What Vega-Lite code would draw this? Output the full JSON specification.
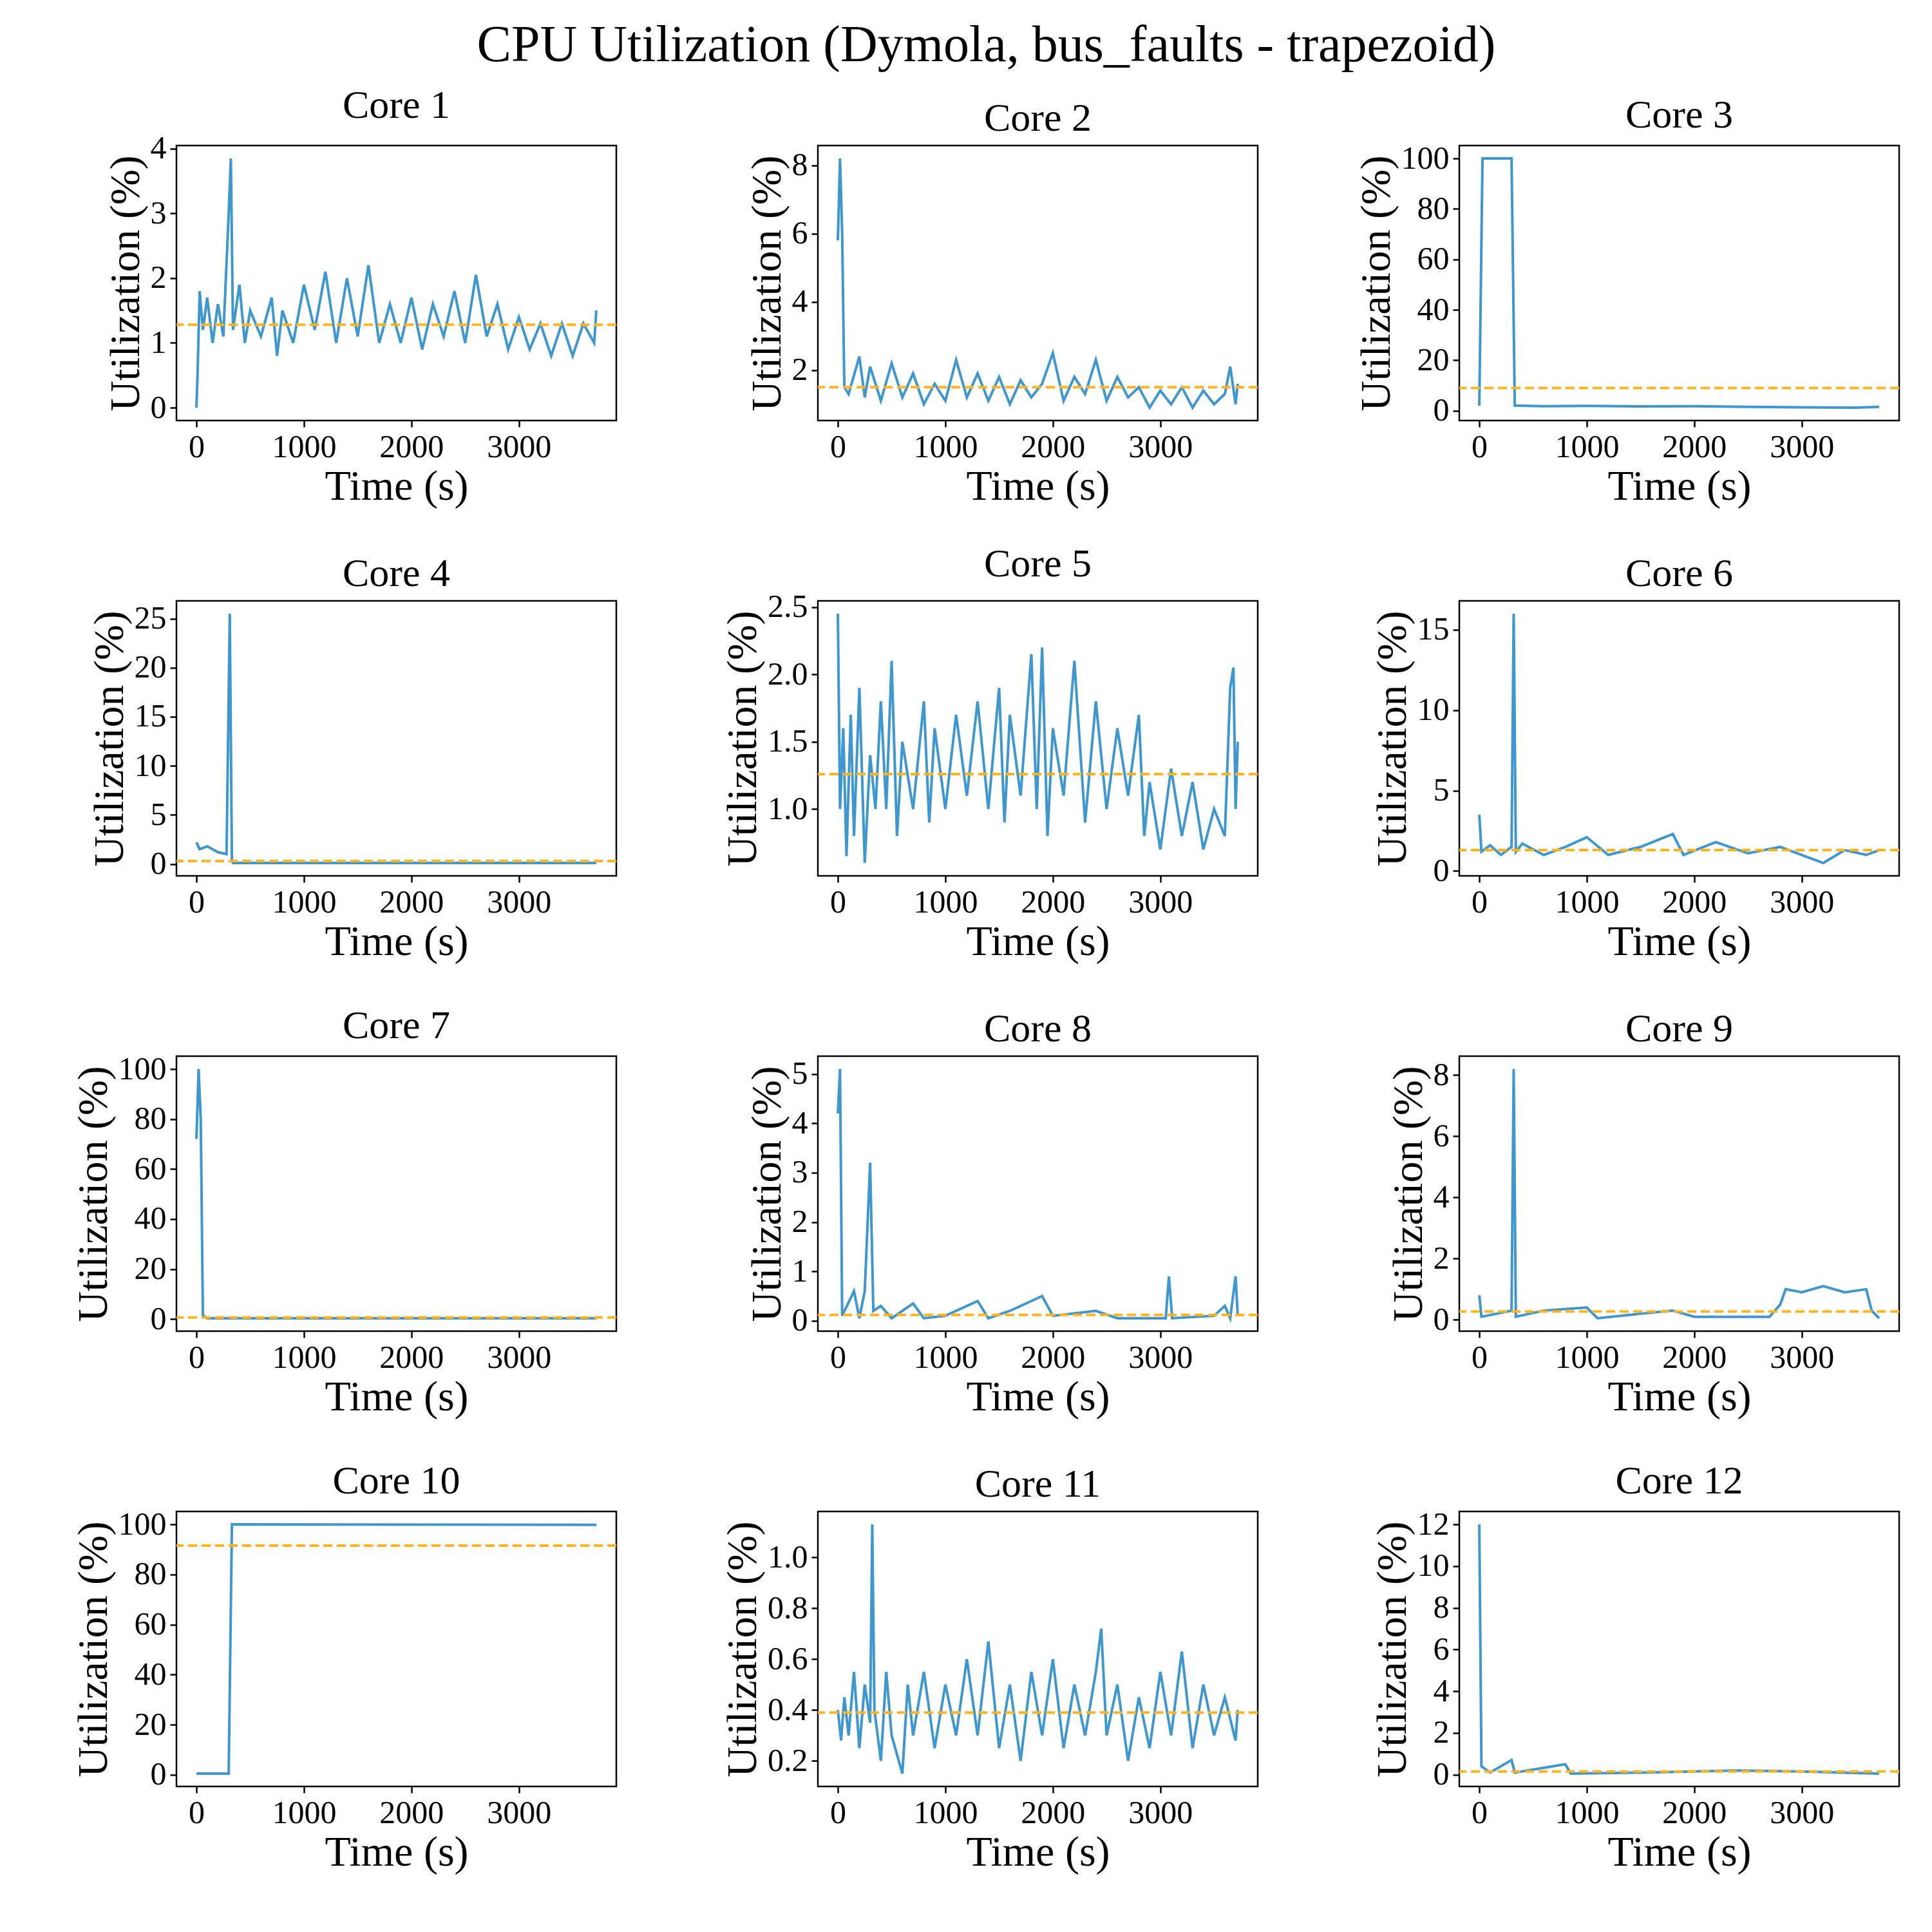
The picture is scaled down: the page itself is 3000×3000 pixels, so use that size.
{
  "$schema": "https://vega.github.io/schema/vega-lite/v6.json",
  "padding": {"left": 110, "top": 30, "right": 20, "bottom": 20},
  "background": "white",
  "title": {"text": "CPU Utilization (Dymola, bus_faults - trapezoid)", "fontSize": 80, "font": "Liberation Serif", "fontWeight": "normal", "anchor": "middle", "offset": 20},
  "config": {
    "font": "Liberation Serif",
    "view": {"stroke": "black", "strokeWidth": 2.5},
    "axis": {"grid": false, "domain": false, "tickColor": "black", "tickWidth": 2.5, "tickSize": 10, "labelFontSize": 50, "labelColor": "black", "titleFontSize": 66, "titleFontWeight": "normal", "titleColor": "black", "labelPadding": 6},
    "header": {"labelFontSize": 62, "labelColor": "black", "labelPadding": 10}
  },
  "data": {"values": [
    {"c":1,"t":0,"u":0},{"c":1,"t":10,"u":0.5},{"c":1,"t":30,"u":1.8},{"c":1,"t":60,"u":1.2},{"c":1,"t":100,"u":1.7},{"c":1,"t":150,"u":1.0},{"c":1,"t":200,"u":1.6},{"c":1,"t":250,"u":1.1},{"c":1,"t":300,"u":3.0},{"c":1,"t":320,"u":3.85},{"c":1,"t":340,"u":1.2},{"c":1,"t":400,"u":1.9},{"c":1,"t":450,"u":1.0},{"c":1,"t":500,"u":1.5},{"c":1,"t":600,"u":1.1},{"c":1,"t":700,"u":1.7},{"c":1,"t":750,"u":0.8},{"c":1,"t":800,"u":1.5},{"c":1,"t":900,"u":1.0},{"c":1,"t":1000,"u":1.9},{"c":1,"t":1100,"u":1.2},{"c":1,"t":1200,"u":2.1},{"c":1,"t":1300,"u":1.0},{"c":1,"t":1400,"u":2.0},{"c":1,"t":1500,"u":1.1},{"c":1,"t":1600,"u":2.2},{"c":1,"t":1700,"u":1.0},{"c":1,"t":1800,"u":1.6},{"c":1,"t":1900,"u":1.0},{"c":1,"t":2000,"u":1.7},{"c":1,"t":2100,"u":0.9},{"c":1,"t":2200,"u":1.6},{"c":1,"t":2300,"u":1.1},{"c":1,"t":2400,"u":1.8},{"c":1,"t":2500,"u":1.0},{"c":1,"t":2600,"u":2.05},{"c":1,"t":2700,"u":1.1},{"c":1,"t":2800,"u":1.6},{"c":1,"t":2900,"u":0.9},{"c":1,"t":3000,"u":1.4},{"c":1,"t":3100,"u":0.9},{"c":1,"t":3200,"u":1.3},{"c":1,"t":3300,"u":0.8},{"c":1,"t":3400,"u":1.3},{"c":1,"t":3500,"u":0.8},{"c":1,"t":3600,"u":1.3},{"c":1,"t":3700,"u":1.0},{"c":1,"t":3720,"u":1.5},
    {"c":2,"t":0,"u":5.8},{"c":2,"t":20,"u":8.2},{"c":2,"t":40,"u":6},{"c":2,"t":60,"u":1.5},{"c":2,"t":100,"u":1.3},{"c":2,"t":200,"u":2.4},{"c":2,"t":250,"u":1.2},{"c":2,"t":300,"u":2.1},{"c":2,"t":400,"u":1.1},{"c":2,"t":500,"u":2.2},{"c":2,"t":600,"u":1.2},{"c":2,"t":700,"u":1.9},{"c":2,"t":800,"u":1.0},{"c":2,"t":900,"u":1.6},{"c":2,"t":1000,"u":1.1},{"c":2,"t":1100,"u":2.3},{"c":2,"t":1200,"u":1.2},{"c":2,"t":1300,"u":1.9},{"c":2,"t":1400,"u":1.1},{"c":2,"t":1500,"u":1.8},{"c":2,"t":1600,"u":1.0},{"c":2,"t":1700,"u":1.7},{"c":2,"t":1800,"u":1.2},{"c":2,"t":1900,"u":1.6},{"c":2,"t":2000,"u":2.5},{"c":2,"t":2100,"u":1.1},{"c":2,"t":2200,"u":1.8},{"c":2,"t":2300,"u":1.3},{"c":2,"t":2400,"u":2.3},{"c":2,"t":2500,"u":1.1},{"c":2,"t":2600,"u":1.8},{"c":2,"t":2700,"u":1.2},{"c":2,"t":2800,"u":1.5},{"c":2,"t":2900,"u":0.9},{"c":2,"t":3000,"u":1.4},{"c":2,"t":3100,"u":1.0},{"c":2,"t":3200,"u":1.5},{"c":2,"t":3300,"u":0.9},{"c":2,"t":3400,"u":1.4},{"c":2,"t":3500,"u":1.0},{"c":2,"t":3600,"u":1.3},{"c":2,"t":3650,"u":2.1},{"c":2,"t":3700,"u":1.0},{"c":2,"t":3720,"u":1.6},
    {"c":3,"t":0,"u":2},{"c":3,"t":30,"u":100},{"c":3,"t":300,"u":100},{"c":3,"t":330,"u":2},{"c":3,"t":600,"u":1.8},{"c":3,"t":1000,"u":1.9},{"c":3,"t":1500,"u":1.7},{"c":3,"t":2000,"u":1.8},{"c":3,"t":2500,"u":1.5},{"c":3,"t":3000,"u":1.3},{"c":3,"t":3500,"u":1.2},{"c":3,"t":3720,"u":1.5},
    {"c":4,"t":0,"u":2.2},{"c":4,"t":30,"u":1.5},{"c":4,"t":100,"u":1.8},{"c":4,"t":200,"u":1.2},{"c":4,"t":280,"u":1.0},{"c":4,"t":310,"u":25.5},{"c":4,"t":330,"u":0.3},{"c":4,"t":340,"u":0.1},{"c":4,"t":1000,"u":0.1},{"c":4,"t":2000,"u":0.1},{"c":4,"t":3000,"u":0.1},{"c":4,"t":3720,"u":0.1},
    {"c":5,"t":0,"u":2.45},{"c":5,"t":20,"u":1.0},{"c":5,"t":50,"u":1.6},{"c":5,"t":80,"u":0.65},{"c":5,"t":120,"u":1.7},{"c":5,"t":150,"u":0.8},{"c":5,"t":200,"u":1.9},{"c":5,"t":250,"u":0.6},{"c":5,"t":300,"u":1.4},{"c":5,"t":350,"u":1.0},{"c":5,"t":400,"u":1.8},{"c":5,"t":450,"u":1.0},{"c":5,"t":500,"u":2.1},{"c":5,"t":550,"u":0.8},{"c":5,"t":600,"u":1.5},{"c":5,"t":700,"u":1.0},{"c":5,"t":800,"u":1.8},{"c":5,"t":850,"u":0.9},{"c":5,"t":900,"u":1.6},{"c":5,"t":1000,"u":1.0},{"c":5,"t":1100,"u":1.7},{"c":5,"t":1200,"u":1.1},{"c":5,"t":1300,"u":1.8},{"c":5,"t":1400,"u":1.0},{"c":5,"t":1500,"u":1.9},{"c":5,"t":1550,"u":0.9},{"c":5,"t":1600,"u":1.7},{"c":5,"t":1700,"u":1.1},{"c":5,"t":1800,"u":2.15},{"c":5,"t":1850,"u":1.0},{"c":5,"t":1900,"u":2.2},{"c":5,"t":1950,"u":0.8},{"c":5,"t":2000,"u":1.6},{"c":5,"t":2100,"u":1.1},{"c":5,"t":2200,"u":2.1},{"c":5,"t":2300,"u":0.9},{"c":5,"t":2400,"u":1.8},{"c":5,"t":2500,"u":1.0},{"c":5,"t":2600,"u":1.6},{"c":5,"t":2700,"u":1.1},{"c":5,"t":2800,"u":1.7},{"c":5,"t":2850,"u":0.8},{"c":5,"t":2900,"u":1.2},{"c":5,"t":3000,"u":0.7},{"c":5,"t":3100,"u":1.3},{"c":5,"t":3200,"u":0.8},{"c":5,"t":3300,"u":1.2},{"c":5,"t":3400,"u":0.7},{"c":5,"t":3500,"u":1.0},{"c":5,"t":3600,"u":0.8},{"c":5,"t":3650,"u":1.9},{"c":5,"t":3680,"u":2.05},{"c":5,"t":3700,"u":1.0},{"c":5,"t":3720,"u":1.5},
    {"c":6,"t":0,"u":3.5},{"c":6,"t":20,"u":1.2},{"c":6,"t":100,"u":1.6},{"c":6,"t":200,"u":1.0},{"c":6,"t":300,"u":1.5},{"c":6,"t":320,"u":16},{"c":6,"t":340,"u":1.2},{"c":6,"t":400,"u":1.7},{"c":6,"t":600,"u":1.0},{"c":6,"t":800,"u":1.5},{"c":6,"t":1000,"u":2.1},{"c":6,"t":1200,"u":1.0},{"c":6,"t":1500,"u":1.5},{"c":6,"t":1800,"u":2.3},{"c":6,"t":1900,"u":1.0},{"c":6,"t":2200,"u":1.8},{"c":6,"t":2500,"u":1.1},{"c":6,"t":2800,"u":1.5},{"c":6,"t":3000,"u":1.0},{"c":6,"t":3200,"u":0.5},{"c":6,"t":3400,"u":1.3},{"c":6,"t":3600,"u":1.0},{"c":6,"t":3720,"u":1.3},
    {"c":7,"t":0,"u":72},{"c":7,"t":20,"u":100},{"c":7,"t":40,"u":80},{"c":7,"t":60,"u":1.5},{"c":7,"t":100,"u":0.3},{"c":7,"t":1000,"u":0.3},{"c":7,"t":2000,"u":0.3},{"c":7,"t":3000,"u":0.3},{"c":7,"t":3720,"u":0.3},
    {"c":8,"t":0,"u":4.2},{"c":8,"t":20,"u":5.1},{"c":8,"t":40,"u":0.1},{"c":8,"t":150,"u":0.6},{"c":8,"t":200,"u":0.05},{"c":8,"t":250,"u":0.6},{"c":8,"t":300,"u":3.2},{"c":8,"t":330,"u":0.2},{"c":8,"t":400,"u":0.3},{"c":8,"t":500,"u":0.05},{"c":8,"t":700,"u":0.35},{"c":8,"t":800,"u":0.05},{"c":8,"t":1000,"u":0.1},{"c":8,"t":1300,"u":0.4},{"c":8,"t":1400,"u":0.05},{"c":8,"t":1600,"u":0.2},{"c":8,"t":1900,"u":0.5},{"c":8,"t":2000,"u":0.1},{"c":8,"t":2400,"u":0.2},{"c":8,"t":2600,"u":0.05},{"c":8,"t":3050,"u":0.05},{"c":8,"t":3080,"u":0.9},{"c":8,"t":3110,"u":0.05},{"c":8,"t":3500,"u":0.1},{"c":8,"t":3600,"u":0.3},{"c":8,"t":3650,"u":0.05},{"c":8,"t":3700,"u":0.9},{"c":8,"t":3720,"u":0.1},
    {"c":9,"t":0,"u":0.8},{"c":9,"t":20,"u":0.1},{"c":9,"t":300,"u":0.3},{"c":9,"t":320,"u":8.2},{"c":9,"t":340,"u":0.1},{"c":9,"t":600,"u":0.3},{"c":9,"t":1000,"u":0.4},{"c":9,"t":1100,"u":0.05},{"c":9,"t":1500,"u":0.2},{"c":9,"t":1800,"u":0.3},{"c":9,"t":2000,"u":0.1},{"c":9,"t":2700,"u":0.1},{"c":9,"t":2800,"u":0.5},{"c":9,"t":2850,"u":1.0},{"c":9,"t":3000,"u":0.9},{"c":9,"t":3200,"u":1.1},{"c":9,"t":3400,"u":0.9},{"c":9,"t":3600,"u":1.0},{"c":9,"t":3650,"u":0.3},{"c":9,"t":3720,"u":0.05},
    {"c":10,"t":0,"u":0.5},{"c":10,"t":300,"u":0.5},{"c":10,"t":330,"u":100},{"c":10,"t":3720,"u":99.8},
    {"c":11,"t":0,"u":0.4},{"c":11,"t":30,"u":0.28},{"c":11,"t":60,"u":0.45},{"c":11,"t":100,"u":0.3},{"c":11,"t":150,"u":0.55},{"c":11,"t":200,"u":0.25},{"c":11,"t":250,"u":0.5},{"c":11,"t":300,"u":0.35},{"c":11,"t":320,"u":1.13},{"c":11,"t":340,"u":0.4},{"c":11,"t":400,"u":0.2},{"c":11,"t":450,"u":0.55},{"c":11,"t":500,"u":0.3},{"c":11,"t":600,"u":0.15},{"c":11,"t":650,"u":0.5},{"c":11,"t":700,"u":0.3},{"c":11,"t":800,"u":0.55},{"c":11,"t":900,"u":0.25},{"c":11,"t":1000,"u":0.5},{"c":11,"t":1100,"u":0.3},{"c":11,"t":1200,"u":0.6},{"c":11,"t":1300,"u":0.3},{"c":11,"t":1400,"u":0.67},{"c":11,"t":1500,"u":0.25},{"c":11,"t":1600,"u":0.5},{"c":11,"t":1700,"u":0.2},{"c":11,"t":1800,"u":0.55},{"c":11,"t":1900,"u":0.3},{"c":11,"t":2000,"u":0.6},{"c":11,"t":2100,"u":0.25},{"c":11,"t":2200,"u":0.5},{"c":11,"t":2300,"u":0.3},{"c":11,"t":2400,"u":0.55},{"c":11,"t":2450,"u":0.72},{"c":11,"t":2500,"u":0.3},{"c":11,"t":2600,"u":0.5},{"c":11,"t":2700,"u":0.2},{"c":11,"t":2800,"u":0.45},{"c":11,"t":2900,"u":0.25},{"c":11,"t":3000,"u":0.55},{"c":11,"t":3100,"u":0.3},{"c":11,"t":3200,"u":0.63},{"c":11,"t":3300,"u":0.25},{"c":11,"t":3400,"u":0.5},{"c":11,"t":3500,"u":0.3},{"c":11,"t":3600,"u":0.45},{"c":11,"t":3700,"u":0.28},{"c":11,"t":3720,"u":0.4},
    {"c":12,"t":0,"u":12},{"c":12,"t":20,"u":0.4},{"c":12,"t":100,"u":0.1},{"c":12,"t":300,"u":0.7},{"c":12,"t":330,"u":0.1},{"c":12,"t":800,"u":0.5},{"c":12,"t":850,"u":0.05},{"c":12,"t":1500,"u":0.1},{"c":12,"t":2400,"u":0.2},{"c":12,"t":3000,"u":0.15},{"c":12,"t":3720,"u":0.05},
    {"c":1,"m":1.28},{"c":2,"m":1.5},{"c":3,"m":9},{"c":4,"m":0.3},{"c":5,"m":1.26},{"c":6,"m":1.3},{"c":7,"m":0.6},{"c":8,"m":0.12},{"c":9,"m":0.27},{"c":10,"m":91.5},{"c":11,"m":0.39},{"c":12,"m":0.15}
  ]},
  "facet": {"field": "c", "type": "ordinal", "sort": "ascending", "title": null, "header": {"labelExpr": "'Core ' + datum.value"}},
  "columns": 3,
  "bounds": "flush",
  "align": "all",
  "spacing": {"column": 313, "row": 280},
  "resolve": {"scale": {"y": "independent"}, "axis": {"x": "independent", "y": "independent"}},
  "spec": {
    "width": 683,
    "height": 427,
    "layer": [
      {
        "transform": [{"filter": "isValid(datum.t)"}],
        "mark": {"type": "line", "color": "#3f97cf", "strokeWidth": 4},
        "encoding": {
          "x": {"field": "t", "type": "quantitative", "title": "Time (s)", "scale": {"domain": [-186, 3906], "nice": false}, "axis": {"values": [0, 1000, 2000, 3000], "format": "d"}},
          "y": {"field": "u", "type": "quantitative", "title": "Utilization (%)", "scale": {"zero": false, "nice": false, "padding": 20}, "axis": {"tickCount": 5}}
        }
      },
      {
        "mark": {"type": "rule", "color": "#ffb41e", "strokeWidth": 4, "strokeDash": [14, 7]},
        "encoding": {"y": {"aggregate": "max", "field": "m", "type": "quantitative"}}
      }
    ]
  }
}
